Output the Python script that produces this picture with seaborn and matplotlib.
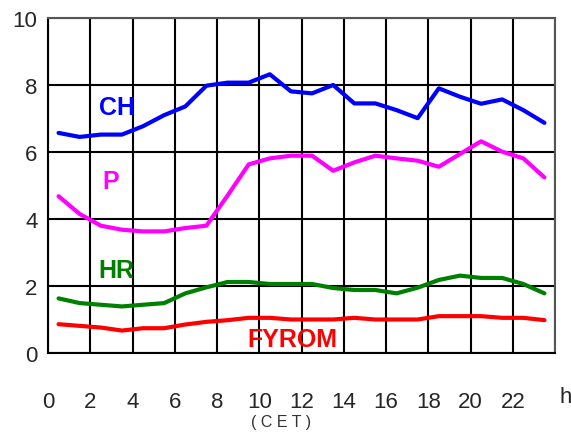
import numpy as np
import pandas as pd
import matplotlib
import matplotlib.pyplot as plt
import seaborn as sns

matplotlib.use('Agg')

# ==========================================
# DATA
# ==========================================
HOURS = [0.5, 1.5, 2.5, 3.5, 4.5, 5.5, 6.5, 7.5, 8.5, 9.5, 10.5, 11.5,
         12.5, 13.5, 14.5, 15.5, 16.5, 17.5, 18.5, 19.5, 20.5, 21.5, 22.5, 23.5]

CH = [6.57, 6.45, 6.52, 6.52, 6.77, 7.10, 7.36, 7.98, 8.07, 8.07, 8.32, 7.81,
      7.75, 8.00, 7.45, 7.45, 7.25, 7.01, 7.90, 7.65, 7.44, 7.57, 7.25, 6.87]
P = [4.68, 4.15, 3.80, 3.68, 3.63, 3.63, 3.73, 3.80, 4.70, 5.63, 5.81, 5.89,
     5.89, 5.44, 5.69, 5.89, 5.81, 5.74, 5.56, 5.94, 6.32, 6.01, 5.81, 5.24]
HR = [1.63, 1.49, 1.44, 1.39, 1.44, 1.49, 1.78, 1.96, 2.12, 2.12, 2.06, 2.06,
      2.06, 1.94, 1.88, 1.88, 1.78, 1.95, 2.18, 2.31, 2.24, 2.24, 2.06, 1.78]
FYROM = [0.86, 0.81, 0.76, 0.67, 0.74, 0.74, 0.85, 0.93, 0.98, 1.05, 1.05, 1.00,
         1.00, 1.00, 1.05, 1.00, 1.00, 1.00, 1.10, 1.10, 1.10, 1.05, 1.05, 0.98]

SERIES = ['CH', 'P', 'HR', 'FYROM']
COLORES = {'CH': '#0000FF', 'P': '#FF00FF', 'HR': '#008000', 'FYROM': '#FF0000'}
# label positions (data coords)
ETIQUETAS = {'CH': (3.26, 7.34), 'P': (2.95, 5.13), 'HR': (3.22, 2.48), 'FYROM': (11.57, 0.42)}

X_TICKS = list(range(0, 24, 2))
Y_TICKS = [0, 2, 4, 6, 8, 10]

df = pd.DataFrame({'hora': HOURS * 4,
                   'valor': CH + P + HR + FYROM,
                   'pais': [s for s in SERIES for _ in HOURS]})

# ==========================================
# FIGURE
# ==========================================
sns.set_style("white")
plt.rcParams['font.family'] = ['Liberation Sans', 'DejaVu Sans']

fig = plt.figure(figsize=(5.71, 4.35), dpi=100)
ax = fig.add_axes([48 / 571, 1 - 354 / 435, (555 - 48) / 571, (354 - 19) / 435])

sns.lineplot(data=df, x='hora', y='valor', hue='pais', palette=COLORES,
             linewidth=3, legend=False, ax=ax, zorder=3)

ax.set_xlim(0, 24)
ax.set_ylim(0, 10)
ax.set_xticks(range(0, 25, 2))
ax.set_xticklabels([str(t) for t in X_TICKS] + [''])
ax.set_yticks(Y_TICKS)
ax.set_yticklabels([str(t) for t in Y_TICKS])
ax.grid(True, color='black', linewidth=1.5)
ax.set_axisbelow(True)
ax.set_xlabel('')
ax.set_ylabel('')

for side in ['left', 'bottom']:
    ax.spines[side].set_color('black')
    ax.spines[side].set_linewidth(1.5)
for side in ['top', 'right']:
    ax.spines[side].set_color('#555555')
    ax.spines[side].set_linewidth(1.5)

ax.tick_params(axis='x', direction='out', length=4.5, width=1.5, color='black',
               pad=23, labelsize=16)
ax.tick_params(axis='y', direction='out', length=4.5, width=1.5, color='black',
               pad=3, labelsize=16)

for s in SERIES:
    x, y = ETIQUETAS[s]
    ax.text(x, y, s, color=COLORES[s], fontsize=18, fontweight='bold',
            ha='center', va='center')

# unit label "h" and the "(CET)" note
ax.text(24.5, -1.3, 'h', fontsize=16, ha='center', va='center', clip_on=False)
fig.text(281 / 571, 1 - 423 / 435, '( C E T )', fontsize=11.5, color='#333333',
         ha='center', va='center')

plt.savefig('out.png', dpi=100)
